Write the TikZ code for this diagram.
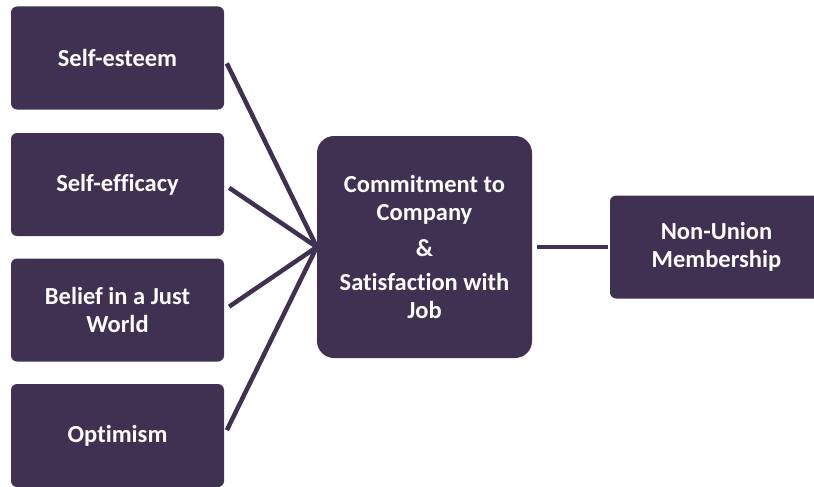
\documentclass[tikz,border=0pt]{standalone}
\usepackage{fontspec}
\setmainfont{Carlito}[Ligatures={NoCommon}]
\definecolor{boxpurple}{HTML}{403152}
\begin{document}
\begin{tikzpicture}[x=1pt,y=-1pt,
  box/.style={fill=boxpurple,draw=none,rounded corners=6pt,minimum width=213pt,minimum height=103pt,
    inner sep=0pt,align=center,text=white,font=\fontsize{24.5}{28}\selectfont\bfseries},
  bigbox/.style={box,rounded corners=17pt,minimum width=215pt,minimum height=222pt},
  link/.style={draw=boxpurple,line width=4.5pt}]
\useasboundingbox (0,0) rectangle (814,487);
\clip (0,0) rectangle (814,487);
\node[box] (se) at (117.5,58) {Self-esteem};
\node[box] (sf) at (117.5,184.5) {Self-efficacy};
\node[box] (bj) at (117.5,310) {Belief in a Just\\World};
\node[box] (op) at (117.5,435.5) {Optimism};
\node[bigbox] (cc) at (424.5,247) {Commitment to\\Company\\[8pt]\&\\[6pt]Satisfaction with\\Job};
\node[box] (nu) at (716.5,247) {Non-Union\\Membership};
\foreach \n in {se,sf,bj,op}
  \draw[link,shorten <=6pt] (\n.east) -- (cc.west);
\draw[link,shorten <=5pt,shorten >=2pt] (cc.east) -- (nu.west);
\end{tikzpicture}
\end{document}
